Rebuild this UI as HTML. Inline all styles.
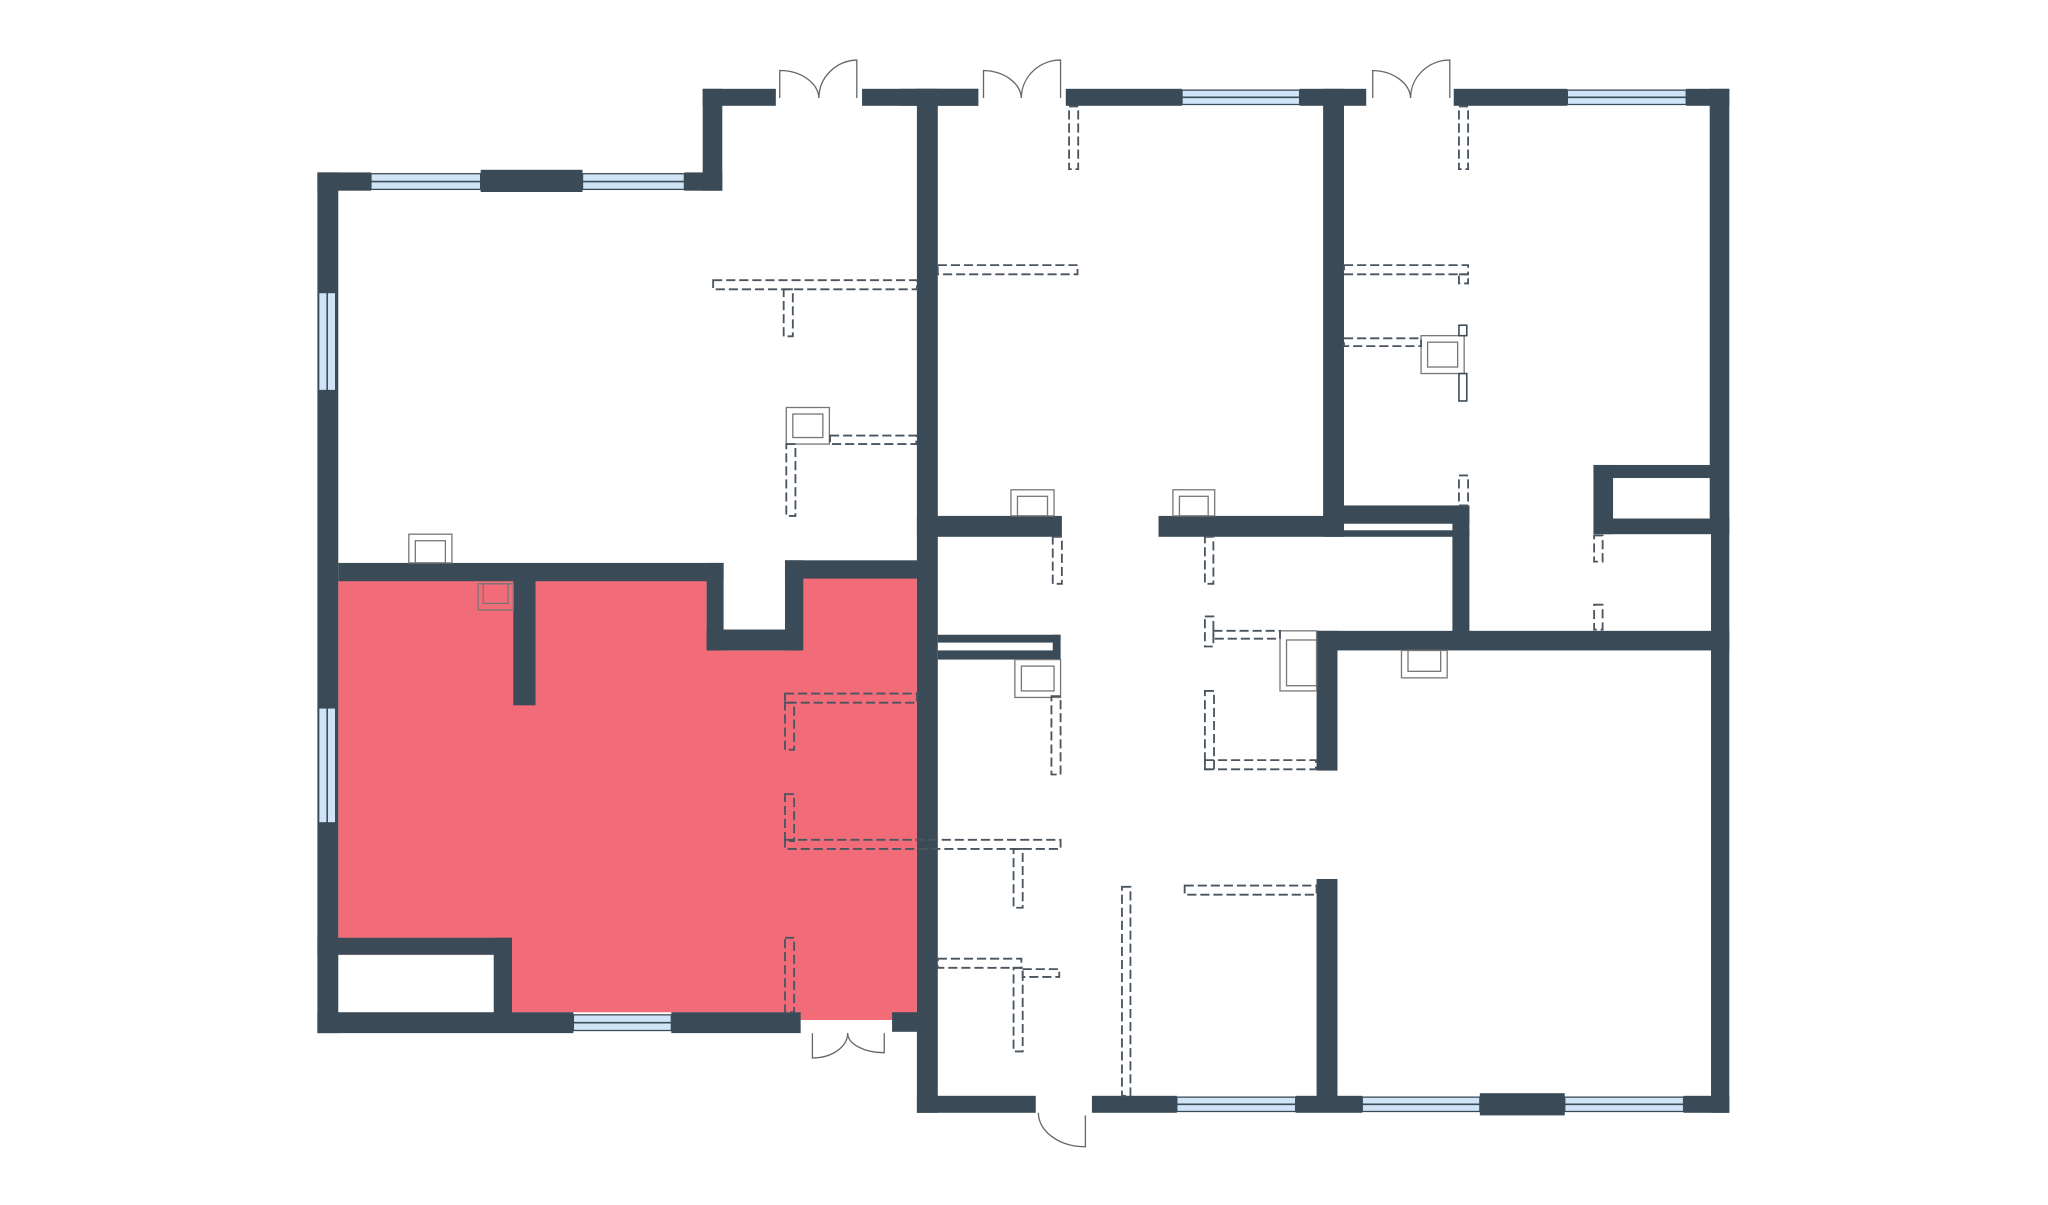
<!DOCTYPE html>
<html><head><meta charset="utf-8"><style>html,body{margin:0;padding:0;background:#fff}svg{display:block}</style></head>
<body>
<svg width="2048" height="1205" viewBox="0 0 1568 922.6" preserveAspectRatio="none" xmlns="http://www.w3.org/2000/svg">
<rect x="0" y="0" width="1568" height="922.6" fill="#fff"/>
<!-- red room -->
<path d="M259,444 H541 V498 H614 V442 H702 V781 H612 V775 H392 V731 H259 Z" fill="#f26b78"/>
<g fill="#3a4a56">
<rect x="243" y="132" width="16" height="659"/>
<rect x="243" y="132" width="41" height="14"/>
<rect x="368" y="130" width="78" height="17"/>
<rect x="524" y="132" width="29" height="14"/>
<rect x="538" y="68" width="15" height="78"/>
<rect x="538" y="68" width="56" height="13"/>
<rect x="660" y="68" width="89" height="13"/>
<rect x="702" y="68" width="16" height="784"/>
<rect x="259" y="431" width="295" height="14"/>
<rect x="541" y="431" width="13" height="67"/>
<rect x="541" y="482" width="73" height="16"/>
<rect x="601" y="429" width="14" height="69"/>
<rect x="601" y="429" width="102" height="14"/>
<rect x="393" y="444" width="17" height="96"/>
<rect x="243" y="718" width="149" height="13"/>
<rect x="378" y="718" width="14" height="58"/>
<rect x="243" y="775" width="196" height="16"/>
<rect x="514" y="775" width="99" height="16"/>
<rect x="683" y="775" width="20" height="15"/>
<rect x="689" y="68" width="60" height="13"/>
<rect x="816" y="68" width="89" height="13"/>
<rect x="995" y="68" width="51" height="13"/>
<rect x="1013" y="68" width="16" height="343"/>
<rect x="1113" y="68" width="87" height="13"/>
<rect x="1291" y="68" width="33" height="13"/>
<rect x="1309" y="68" width="15" height="330"/>
<rect x="1310" y="396" width="14" height="456"/>
<rect x="1220" y="356" width="15" height="53"/>
<rect x="1220" y="356" width="90" height="10"/>
<rect x="1220" y="397" width="104" height="12"/>
<rect x="702" y="395" width="111" height="16"/>
<rect x="887" y="395" width="142" height="16"/>
<rect x="1029" y="387" width="96" height="14"/>
<rect x="1029" y="406" width="96" height="5"/>
<rect x="1112" y="387" width="13" height="110"/>
<rect x="1008" y="483" width="316" height="15"/>
<rect x="1008" y="483" width="16" height="107"/>
<rect x="718" y="486" width="94" height="6"/>
<rect x="718" y="498" width="94" height="7"/>
<rect x="806" y="486" width="6" height="19"/>
<rect x="1008" y="673" width="16" height="170"/>
<rect x="702" y="839" width="91" height="13"/>
<rect x="836" y="839" width="65" height="13"/>
<rect x="992" y="839" width="51" height="13"/>
<rect x="1133" y="837" width="65" height="17"/>
<rect x="1289" y="839" width="35" height="13"/>
</g>
<g fill="#cfe5f7" stroke="#3a4a56" stroke-width="1">
<rect x="284" y="133" width="84" height="12"/>
<rect x="446" y="133" width="78" height="12"/>
<rect x="244" y="224" width="13" height="75"/>
<rect x="244" y="542" width="13" height="88"/>
<rect x="439" y="777" width="75" height="12"/>
<rect x="905" y="69" width="90" height="11"/>
<rect x="1200" y="69" width="91" height="11"/>
<rect x="901" y="840" width="91" height="11"/>
<rect x="1043" y="840" width="90" height="11"/>
<rect x="1198" y="840" width="91" height="11"/>
</g>
<g stroke="#3a4a56" stroke-width="1.2">
<line x1="284" y1="139" x2="368" y2="139"/><line x1="446" y1="139" x2="524" y2="139"/>
<line x1="250.5" y1="224" x2="250.5" y2="299"/><line x1="250.5" y1="542" x2="250.5" y2="630"/>
<line x1="439" y1="783" x2="514" y2="783"/><line x1="905" y1="74.5" x2="995" y2="74.5"/>
<line x1="1200" y1="74.5" x2="1291" y2="74.5"/><line x1="901" y1="845.5" x2="992" y2="845.5"/>
<line x1="1043" y1="845.5" x2="1133" y2="845.5"/><line x1="1198" y1="845.5" x2="1289" y2="845.5"/>
</g>
<g fill="none" stroke="#666" stroke-width="1">
<path d="M597,75 V54 A30,22 0 0 1 627,75"/><path d="M656,75 V46 A30,29 0 0 0 627,75"/>
<path d="M753,75 V54 A30,22 0 0 1 782,75"/><path d="M812,75 V46 A30,29 0 0 0 782,75"/>
<path d="M1051,75 V54 A30,22 0 0 1 1080,75"/><path d="M1110,75 V46 A30,29 0 0 0 1080,75"/>
<path d="M622,791 V810 A27,19 0 0 0 649,791"/><path d="M677,791 V806 A28,15 0 0 1 649,791"/>
<path d="M795,852 A36,26 0 0 0 831,878 V854"/>
</g>
<g fill="none" stroke="#777" stroke-width="1">
<rect x="313" y="409" width="33" height="22"/><rect x="318" y="414" width="23" height="17"/>
<rect x="602" y="312" width="33" height="28"/><rect x="607" y="317" width="23" height="18"/>
<rect x="366" y="447" width="27" height="20"/><rect x="370" y="447" width="19" height="15"/>
<rect x="774" y="375" width="33" height="20"/><rect x="779" y="380" width="23" height="15"/>
<rect x="898" y="375" width="32" height="20"/><rect x="903" y="380" width="22" height="15"/>
<rect x="1088" y="257" width="33" height="29"/><rect x="1093" y="262" width="23" height="19"/>
<rect x="777" y="505" width="35" height="29"/><rect x="782" y="510" width="25" height="19"/>
<rect x="980" y="483" width="28" height="46"/><rect x="985" y="490" width="23" height="35"/>
<rect x="1073" y="498" width="35" height="21"/><rect x="1078" y="498" width="25" height="16"/>
</g>
<g fill="none" stroke="#3a4a56" stroke-width="1.2">
<rect x="1117" y="249" width="6" height="8"/><rect x="1117" y="286" width="6" height="21"/>
</g>
<g fill="none" stroke="#4a5560" stroke-width="1.4" stroke-dasharray="7 3">
<rect x="546" y="214.5" width="156" height="7"/><rect x="600" y="221.5" width="7" height="36"/>
<rect x="635.5" y="333.5" width="66" height="6.5"/><rect x="602" y="340" width="7" height="55"/>
<rect x="718" y="203" width="107" height="7"/>
<rect x="1029" y="203" width="95" height="7"/><rect x="1117" y="210" width="7" height="7"/>
<rect x="1029" y="259" width="59" height="6"/>
<rect x="818.5" y="81.5" width="7" height="48"/><rect x="1117" y="81.5" width="7" height="48"/>
<rect x="1117" y="364" width="7" height="23"/>
<rect x="1220.5" y="410" width="6.5" height="20"/><rect x="1220.5" y="463" width="6.5" height="19"/>
<rect x="806" y="411" width="7" height="36"/><rect x="922.5" y="411" width="6.5" height="36"/>
<rect x="922.5" y="472" width="6.5" height="23"/><rect x="929" y="483" width="51" height="6"/>
<rect x="922.5" y="529" width="7" height="60"/><rect x="922.5" y="582" width="85" height="7"/>
<rect x="805" y="533" width="7" height="60"/>
<rect x="601" y="531" width="101" height="7"/><rect x="601" y="538" width="7" height="36"/>
<rect x="601" y="608" width="7" height="36"/><rect x="601" y="643" width="211" height="7"/>
<rect x="776" y="650" width="7" height="45"/>
<rect x="601" y="718" width="7" height="57"/>
<rect x="718" y="734" width="64" height="7"/><rect x="776" y="741" width="7" height="64"/>
<rect x="783" y="742" width="28" height="6"/>
<rect x="859" y="679" width="6.5" height="160"/>
<rect x="907" y="678" width="101" height="7"/>
</g>
</svg>
</body></html>
